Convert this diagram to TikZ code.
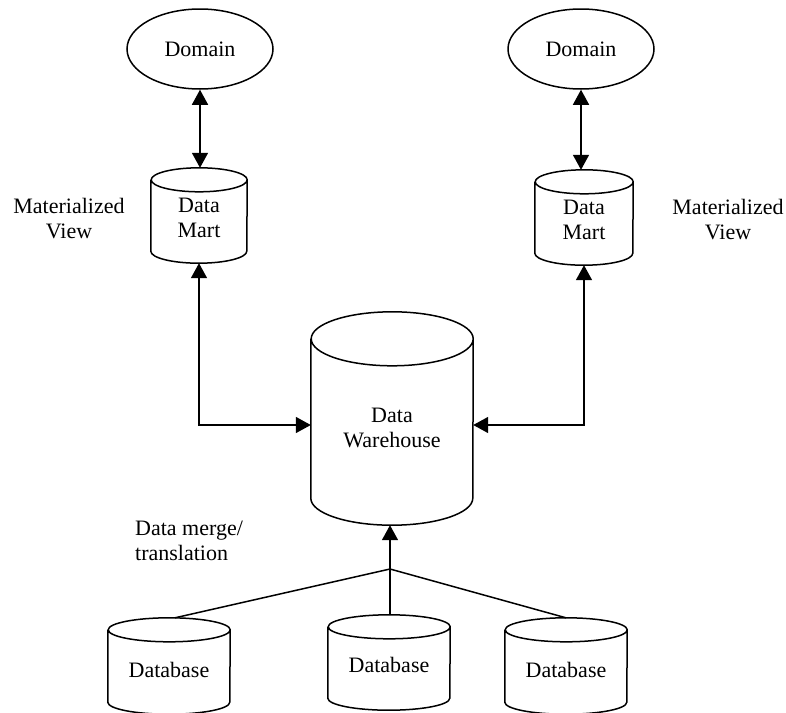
\documentclass[tikz,border=0pt]{standalone}
\usepackage{fontspec}
\setmainfont{Liberation Serif}
\usetikzlibrary{arrows.meta,shapes.geometric}
\newcommand\dbcyl[6]{% name, cx, cy, w, h, ry
  \node[cylbox, minimum width=#4, minimum height=#5] (#1) at (#2,-#3) {};
  \draw[lw] ([yshift=-#6]#1.north west) -- ([yshift=#6]#1.south west)
    arc[start angle=180,end angle=360,x radius=#4/2,y radius=#6]
    -- ([yshift=-#6]#1.north east)
    arc[start angle=0,end angle=360,x radius=#4/2,y radius=#6];
}
\begin{document}
\begin{tikzpicture}[x=1pt,y=1pt,
  font=\fontsize{22}{25}\selectfont,
  lw/.style={line width=1.5pt},
  >={Triangle[length=15pt,width=16pt]},
  cylbox/.style={draw=none,inner sep=0pt},
  txt/.style={inner sep=0pt,align=center},
  dom/.style={ellipse,draw,lw,inner sep=0pt,minimum width=146,minimum height=80}]
\clip (0,0) rectangle (786,-712);
\fill[white] (0,0) rectangle (786,-712);

% domains
\node[dom] (domL) at (200,-49) {Domain};
\node[dom] (domR) at (581,-49) {Domain};

% data marts
\dbcyl{dmL}{199}{215.5}{96}{95}{12}
\node[txt] (dmLt) at (199,-217.5) {Data\\Mart};
\dbcyl{dmR}{584}{217.5}{98}{95}{12}
\node[txt] (dmRt) at (584,-219.5) {Data\\Mart};

% warehouse
\dbcyl{wh}{392}{418.5}{162}{213}{27}
\node[txt] (wht) at (392,-428) {Data\\Warehouse};

% databases
\dbcyl{db1}{169}{666}{122}{96}{12}
\node[txt] (db1t) at (169,-670) {Database};
\dbcyl{db2}{389}{662.5}{122}{95}{12}
\node[txt] (db2t) at (389,-665) {Database};
\dbcyl{db3}{566}{666}{122}{96}{12}
\node[txt] (db3t) at (566,-670) {Database};

% labels
\node[txt] (mvL) at (69,-218.5) {Materialized\\View};
\node[txt] (mvR) at (728,-219.5) {Materialized\\View};
\node[txt,align=left,anchor=west] (merge) at (135,-540.5) {Data merge/\\translation};

% connectors
\draw[lw,<->] (domL.south) -- (domL.south |- dmL.north);
\draw[lw,<->] (domR.south) -- (domR.south |- dmR.north);
\draw[lw,<->] (dmL.south) |- ([yshift=-6.5]wh.west);
\draw[lw,<->] (dmR.south) |- ([yshift=-6.5]wh.east);
\coordinate (j) at (390,-569);
\draw[lw,->] (j) -- (j |- wh.south);
\draw[lw] (j) -- ([xshift=6]db1.north);
\draw[lw] (j) -- (j |- db2.north);
\draw[lw] (j) -- (db3.north);
\end{tikzpicture}
\end{document}
